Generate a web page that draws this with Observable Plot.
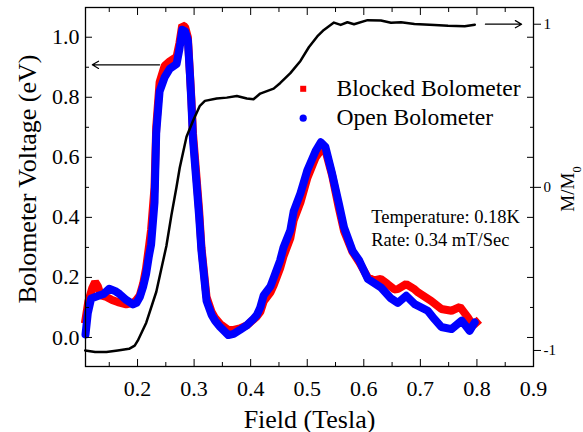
<!DOCTYPE html>
<html><head><meta charset="utf-8">
<script src="https://cdn.jsdelivr.net/npm/d3@7"></script>
<script src="https://cdn.jsdelivr.net/npm/@observablehq/plot@0.6"></script>
<style>body{margin:0;background:#fff}</style>
</head><body><div id="chart"></div>
<script>
// ---- data ----
const blockedField = [0.108,0.113,0.120,0.125,0.130,0.135,0.145,0.155,0.165,0.180,0.192,0.198,0.204,0.210,0.215,0.220,0.224,0.230,0.233,0.239,0.248,0.257,0.269,0.274,0.279,0.284,0.289,0.295,0.298,0.304,0.309,0.313,0.322,0.331,0.337,0.346,0.3605,0.370,0.381,0.393,0.405,0.411,0.417,0.423,0.435,0.441,0.452,0.458,0.470,0.476,0.488,0.500,0.515,0.5265,0.5325,0.544,0.556,0.565,0.580,0.592,0.607,0.618,0.630,0.642,0.654,0.660,0.675,0.690,0.696,0.719,0.737,0.755,0.770,0.784,0.793,0.799];
const blockedVolt = [0.06,0.12,0.165,0.185,0.17,0.14,0.135,0.125,0.118,0.11,0.115,0.125,0.14,0.18,0.23,0.30,0.36,0.50,0.70,0.85,0.905,0.92,0.935,0.98,1.04,1.035,1.0,0.80,0.68,0.54,0.42,0.30,0.135,0.085,0.065,0.045,0.025,0.025,0.03,0.04,0.06,0.07,0.085,0.12,0.15,0.175,0.23,0.27,0.33,0.39,0.45,0.53,0.60,0.63,0.62,0.54,0.43,0.355,0.285,0.25,0.20,0.19,0.195,0.178,0.16,0.161,0.178,0.16,0.15,0.122,0.095,0.089,0.102,0.067,0.04,0.05];

const openField = [0.108,0.112,0.118,0.132,0.140,0.150,0.160,0.168,0.180,0.192,0.198,0.204,0.210,0.215,0.220,0.224,0.230,0.233,0.239,0.248,0.257,0.269,0.274,0.279,0.284,0.289,0.2925,0.295,0.298,0.304,0.309,0.313,0.322,0.331,0.337,0.346,0.3605,0.370,0.381,0.393,0.405,0.411,0.417,0.423,0.435,0.441,0.452,0.458,0.470,0.476,0.488,0.500,0.515,0.524,0.532,0.544,0.556,0.565,0.580,0.592,0.607,0.630,0.648,0.660,0.675,0.690,0.713,0.725,0.737,0.755,0.773,0.787,0.796];
const openVolt = [0.01,0.08,0.13,0.14,0.145,0.162,0.155,0.145,0.125,0.11,0.115,0.135,0.17,0.21,0.27,0.31,0.45,0.68,0.82,0.867,0.895,0.911,0.96,1.025,1.02,0.99,0.88,0.79,0.66,0.52,0.40,0.289,0.122,0.075,0.056,0.035,0.008,0.012,0.025,0.04,0.062,0.075,0.10,0.14,0.17,0.20,0.256,0.30,0.356,0.42,0.48,0.556,0.622,0.65,0.635,0.545,0.445,0.367,0.289,0.256,0.195,0.167,0.13,0.115,0.139,0.111,0.089,0.061,0.035,0.028,0.056,0.022,0.05];

const magField = [0.1075,0.125,0.145,0.165,0.185,0.195,0.2004,0.2154,0.2332,0.2420,0.2510,0.2599,0.2688,0.2746,0.2866,0.2983,0.3102,0.3191,0.3399,0.3577,0.3755,0.3932,0.4050,0.4169,0.4287,0.4406,0.4524,0.4702,0.4880,0.5028,0.5177,0.5294,0.5472,0.5591,0.5710,0.5827,0.6066,0.6303,0.6480,0.6658,0.6895,0.7250,0.7489,0.7784,0.7962];
const magRatio = [-1.0,-1.01,-1.01,-1.0,-0.99,-0.97,-0.94,-0.83,-0.64,-0.50,-0.36,-0.17,0.0,0.12,0.31,0.41,0.50,0.53,0.545,0.55,0.56,0.545,0.54,0.575,0.59,0.605,0.64,0.70,0.775,0.859,0.925,0.965,1.01,0.996,1.012,1.0,1.025,1.023,1.009,1.012,1.002,0.995,0.99,0.987,0.997];

const xTicks = [0.2,0.3,0.4,0.5,0.6,0.7,0.8,0.9];
const xMinor = [0.15,0.25,0.35,0.45,0.55,0.65,0.75,0.85];
const yTicks = [0.0,0.2,0.4,0.6,0.8,1.0];
const yMinor = [0.1,0.3,0.5,0.7,0.9];
const mTicks = [-1,0,1];
const seriesNames = ["Blocked Bolometer","Open Bolometer"];
const infoLines = ["Temperature: 0.18K","Rate: 0.34 mT/Sec"];
const xLabel = "Field (Tesla)";
const yLabel = "Bolometer Voltage (eV)";
const yRightLabel = "M/M0";
// annotation arrows: left one points to the voltage axis, right one to M/M0 axis
const arrowToLeft = {from: 0.239, to: 0.120, volt: 0.908};
const arrowToRight = {from: 0.815, to: 0.879, ratio: 1};

// right-axis (M/M0) expressed in left-axis (voltage) units
const mToV = m => 0.5 + 0.5433 * m;

const blocked = blockedField.map((f, i) => ({f, v: blockedVolt[i]}));
const open = openField.map((f, i) => ({f, v: openVolt[i]}));
const mag = magField.map((f, i) => ({f, m: magRatio[i]}));
const arrows = [
  {x1: arrowToLeft.from, x2: arrowToLeft.to, y: arrowToLeft.volt},
  {x1: arrowToRight.from, x2: arrowToRight.to, y: mToV(arrowToRight.ratio)}
];

const font = "'Liberation Serif','Times New Roman',serif";
const blank = () => "";

const plot = Plot.plot({
  width: 583, height: 432,
  marginLeft: 85, marginRight: 50, marginTop: 7, marginBottom: 66,
  x: {domain: [0.108, 0.9]},
  y: {domain: [-0.0967, 1.099]},
  style: {fontFamily: font, background: "white", color: "black"},
  marks: [
    Plot.line(blocked, {x: "f", y: "v", stroke: "#ff0000", strokeWidth: 8, strokeLinejoin: "miter", strokeLinecap: "square"}),
    Plot.line(open, {x: "f", y: "v", stroke: "#0000ff", strokeWidth: 8, strokeLinejoin: "round", strokeLinecap: "round"}),
    Plot.line(mag, {x: "f", y: d => mToV(d.m), stroke: "black", strokeWidth: 2.5}),
    Plot.arrow(arrows, {x1: "x1", x2: "x2", y1: "y", y2: "y", stroke: "black", strokeWidth: 1.2, headLength: 9}),
    Plot.frame({stroke: "black", strokeWidth: 1.3}),
    Plot.axisX({ticks: xTicks, tickSize: -7, tickPadding: 21, tickFormat: d3.format(".1f"), fontSize: 22, label: null}),
    Plot.axisX({ticks: xMinor, tickSize: -4, tickFormat: blank, label: null}),
    Plot.axisX({anchor: "top", ticks: xTicks, tickSize: -7, tickFormat: blank, label: null}),
    Plot.axisX({anchor: "top", ticks: xMinor, tickSize: -4, tickFormat: blank, label: null}),
    Plot.axisY({ticks: yTicks, tickSize: -7, tickPadding: 13, tickFormat: d3.format(".1f"), fontSize: 22, label: null}),
    Plot.axisY({ticks: yMinor, tickSize: -4, tickFormat: blank, label: null}),
    Plot.axisY({anchor: "right", ticks: yTicks, tickSize: -7, tickFormat: blank, label: null}),
    Plot.axisY({anchor: "right", ticks: yMinor, tickSize: -4, tickFormat: blank, label: null}),
    Plot.axisY({anchor: "right", ticks: mTicks.map(mToV), tickSize: 7, tickPadding: 3, fontSize: 15,
      tickFormat: d => String(Math.round((d - 0.5) / 0.5433)), label: null}),
    Plot.text([xLabel], {frameAnchor: "bottom", dy: 61, lineAnchor: "bottom", fontSize: 26}),
    Plot.text([yLabel], {frameAnchor: "left", rotate: -90, dx: -50, dy: -8, lineAnchor: "bottom", textAnchor: "middle", fontSize: 26}),
    Plot.text([yRightLabel], {frameAnchor: "right", rotate: -90, dx: 40, dy: 2, lineAnchor: "bottom", textAnchor: "middle", fontSize: 19}),
    Plot.dot([0], {frameAnchor: "top-left", dx: 217.7, dy: 81.3, symbol: "square", r: 3.4, fill: "#ff0000"}),
    Plot.dot([0], {frameAnchor: "top-left", dx: 217.7, dy: 110.7, symbol: "circle", r: 3.6, fill: "#0000ff"}),
    Plot.text([seriesNames.join("\n")], {frameAnchor: "top-left", dx: 251, dy: 117, lineAnchor: "bottom", textAnchor: "start", fontSize: 23.6, lineHeight: 1.19}),
    Plot.text([infoLines.join("\n")], {frameAnchor: "top-left", dx: 285.7, dy: 238, lineAnchor: "bottom", textAnchor: "start", fontSize: 18.5, lineHeight: 1.21})
  ]
});

// subscript 0 on the right-axis label
d3.select(plot).selectAll("text").filter(function() { return this.textContent === yRightLabel; })
  .html('M/M<tspan baseline-shift="sub" font-size="65%">0</tspan>');

document.getElementById("chart").appendChild(plot);
</script>
</body></html>
